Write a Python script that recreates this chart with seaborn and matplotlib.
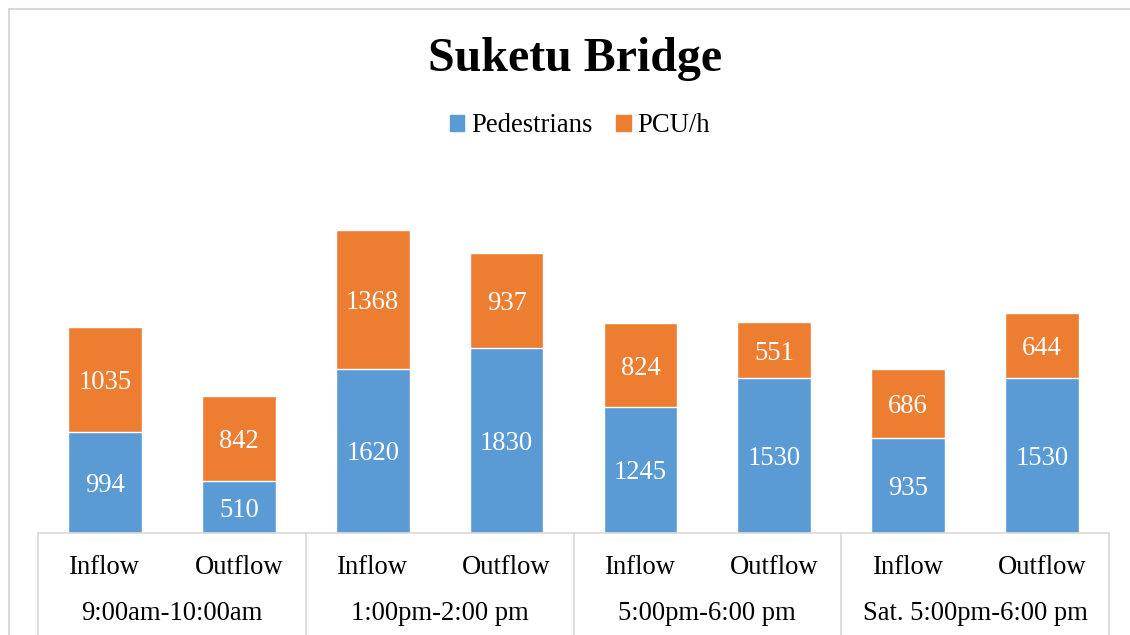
import matplotlib
matplotlib.use('Agg')
import matplotlib.pyplot as plt
import seaborn as sns
import pandas as pd
from matplotlib.patches import Rectangle

# chart data
periods = ["9:00am-10:00am", "1:00pm-2:00 pm", "5:00pm-6:00 pm", "Sat. 5:00pm-6:00 pm"]
directions = ["Inflow", "Outflow"]
pedestrians = [994, 510, 1620, 1830, 1245, 1530, 935, 1530]
pcu = [1035, 842, 1368, 937, 824, 551, 686, 644]

blue = "#5B9BD5"
orange = "#ED7D31"
grid_grey = "#D9D9D9"
fs = 19.2

keys = [f"{p} | {d}" for p in periods for d in directions]
df = pd.DataFrame({
    "slot": keys,
    "Pedestrians": pedestrians,
    "PCU/h": pcu,
})
df["total"] = df["Pedestrians"] + df["PCU/h"]

sns.set_style("white")
plt.rcParams['font.family'] = ['Liberation Serif', 'DejaVu Serif']
plt.rcParams['text.color'] = 'black'

W, H = 1130, 635
fig = plt.figure(figsize=(W / 100, H / 100), dpi=100)
ax = fig.add_axes([38 / W, (H - 533) / H, (1109 - 38) / W, (533 - 151) / H])

# stacked bars: draw total (orange) then pedestrians (blue) over it
sns.barplot(data=df, x="slot", y="total", order=keys, color=orange,
            width=0.55, saturation=1, ax=ax)
sns.barplot(data=df, x="slot", y="Pedestrians", order=keys, color=blue,
            width=0.55, saturation=1, ax=ax)

bars_total = ax.containers[0]
bars_ped = ax.containers[1]
for rect, ped in zip(bars_ped, pedestrians):
    ax.text(rect.get_x() + rect.get_width() / 2, ped / 2, str(ped),
            ha='center', va='center_baseline', color='white', fontsize=fs)
# label PCU segment at its own centre
for rect, ped, val in zip(bars_total, pedestrians, pcu):
    ax.text(rect.get_x() + rect.get_width() / 2, ped + val / 2, str(val),
            ha='center', va='center_baseline', color='white', fontsize=fs)

ax.set_xlim(-0.5, len(keys) - 0.5)
ax.set_ylim(0, 3770)
ax.set_xticks([])
ax.set_yticks([])
ax.set_xlabel("")
ax.set_ylabel("")
for s in ["top", "left", "right"]:
    ax.spines[s].set_visible(False)
ax.spines["bottom"].set_color(grid_grey)
ax.spines["bottom"].set_linewidth(1.2)

# multi-level category axis
trans = ax.get_xaxis_transform()
axh = (533 - 151)
for i, k in enumerate(keys):
    ax.text(i, -(568 - 533) / axh, directions[i % 2], transform=trans,
            ha='center', va='center', fontsize=fs, clip_on=False)
for g, p in enumerate(periods):
    ax.text(2 * g + 0.5, -(613 - 533) / axh, p, transform=trans,
            ha='center', va='center', fontsize=fs, clip_on=False)
for xs in [-0.5, 1.5, 3.5, 5.5, 7.5]:
    ax.plot([xs, xs], [0, -(640 - 533) / axh], transform=trans, color=grid_grey,
            lw=1.2, clip_on=False)

# legend
handles = [Rectangle((0, 0), 1, 1, color=blue), Rectangle((0, 0), 1, 1, color=orange)]
fig.legend(handles, ["Pedestrians", "PCU/h"], loc='center',
           bbox_to_anchor=(580 / W, 1 - 126 / H), ncol=2, frameon=False,
           fontsize=fs, handlelength=0.55, handleheight=0.55, handletextpad=0.25,
           columnspacing=0.9)

fig.text(575 / W, 1 - 59 / H, "Suketu Bridge", ha='center', va='center',
         fontsize=34.5, fontweight='bold')

# outer chart border
fig.patches.append(Rectangle((8.5 / W, -0.05), 1.1, 1 - 8.5 / H + 0.05,
                             transform=fig.transFigure, fill=False,
                             edgecolor=grid_grey, lw=1.5))

fig.savefig("out.png", dpi=100)
